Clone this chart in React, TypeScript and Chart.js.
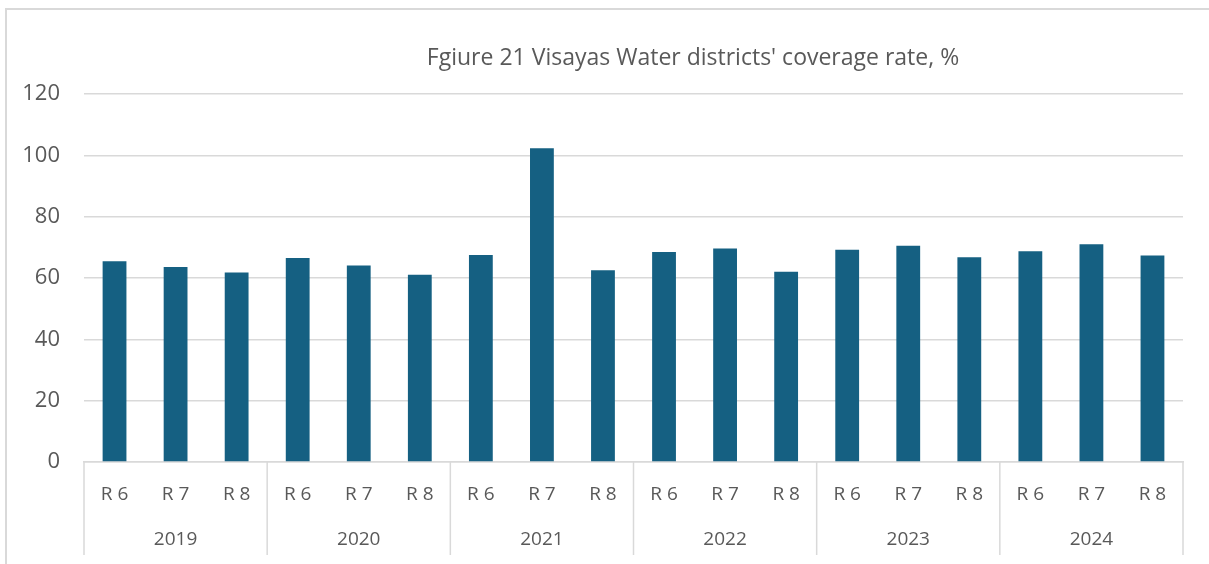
import React, { useEffect, useRef } from "react";
import { Chart, registerables } from "chart.js";

Chart.register(...registerables);

const titleText = "Fgiure 21 Visayas Water districts' coverage rate, %";
const years = ["2019", "2020", "2021", "2022", "2023", "2024"];
const regions = ["R 6", "R 7", "R 8"];
const categories = years.flatMap(() => regions);
const coverage = [
  65.5, 63.6, 61.8,
  66.5, 64.1, 61.1,
  67.5, 102.3, 62.5,
  68.5, 69.6, 62.0,
  69.2, 70.5, 66.8,
  68.7, 71.0, 67.3,
];
const yTicks = [0, 20, 40, 60, 80, 100, 120];

const FONT = "'Open Sans', Roboto, sans-serif";
const TEXT = "#595959";
const GRID = "#d9d9d9";
const BAR = "#156082";

const decorPlugin = {
  id: "decor",
  afterDraw(chart: any) {
    const { ctx, chartArea, scales } = chart;
    const x = scales.x;
    ctx.save();
    ctx.strokeStyle = GRID;
    ctx.lineWidth = 1.5;
    const n = categories.length;
    const step = x.getPixelForValue(1) - x.getPixelForValue(0);
    for (let i = 0; i <= n; i += regions.length) {
      const px = x.getPixelForValue(0) - step / 2 + i * step;
      ctx.beginPath();
      ctx.moveTo(px, chartArea.bottom);
      ctx.lineTo(px, chartArea.bottom + 93);
      ctx.stroke();
    }
    ctx.fillStyle = TEXT;
    ctx.font = `23px ${FONT}`;
    ctx.textAlign = "center";
    ctx.textBaseline = "middle";
    ctx.fillText(titleText, 693, 58);
    ctx.restore();
  },
};

export default function App() {
  const ref = useRef<HTMLCanvasElement>(null);
  useEffect(() => {
    if (!ref.current) return;
    const chart = new Chart(ref.current, {
      type: "bar",
      data: {
        labels: categories,
        datasets: [
          {
            label: "Coverage rate",
            data: coverage,
            backgroundColor: BAR,
            borderWidth: 0,
            categoryPercentage: 1,
            barPercentage: 0.39,
            xAxisID: "x",
          },
        ],
      },
      plugins: [decorPlugin],
      options: {
        animation: false,
        responsive: false,
        maintainAspectRatio: false,
        layout: { padding: { left: 0, right: 26, top: 94, bottom: 7 } },
        plugins: {
          legend: { display: false },
          title: { display: false },
          tooltip: { enabled: false },
        },
        scales: {
          x: {
            type: "category",
            position: "bottom",
            grid: { display: false, drawTicks: false },
            border: { display: true, color: GRID, width: 1.5 },
            ticks: {
              color: TEXT,
              font: { family: FONT, size: 19 },
              padding: 21,
              maxRotation: 0,
              autoSkip: false,
            },
            afterFit: (s: any) => {
              s.height = 50;
            },
          },
          x2: {
            type: "category",
            position: "bottom",
            labels: years,
            offset: true,
            grid: { display: false, drawTicks: false },
            border: { display: false },
            ticks: {
              color: TEXT,
              font: { family: FONT, size: 19 },
              padding: 16,
              maxRotation: 0,
              autoSkip: false,
            },
            afterFit: (s: any) => {
              s.height = 45;
            },
          },
          y: {
            min: 0,
            max: 120,
            afterBuildTicks: (s: any) => {
              s.ticks = yTicks.map((v) => ({ value: v }));
            },
            grid: { color: GRID, lineWidth: 1.5, drawTicks: false },
            border: { display: false },
            ticks: {
              color: TEXT,
              font: { family: FONT, size: 22 },
              padding: 24,
            },
            afterFit: (s: any) => {
              s.width = 84;
            },
          },
        },
      },
    });
    return () => chart.destroy();
  }, []);
  return (
    <div style={{ position: "fixed", left: 0, top: 0, width: 1209, height: 564, background: "#fff", overflow: "hidden" }}>
      <div
        style={{
          position: "absolute",
          left: 5,
          top: 8,
          width: 1400,
          height: 700,
          border: `2px solid ${GRID}`,
          boxSizing: "border-box",
        }}
      />
      <canvas ref={ref} width={1209} height={564} style={{ position: "absolute", left: 0, top: 0 }} />
    </div>
  );
}
